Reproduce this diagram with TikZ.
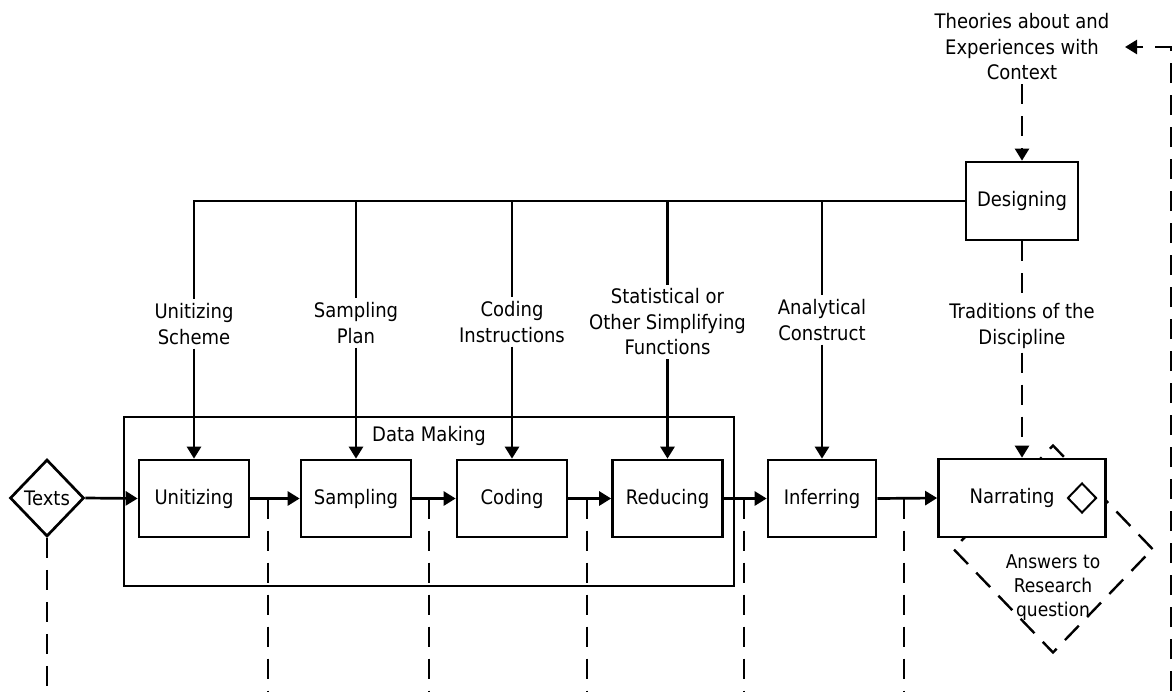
\documentclass[tikz,border=0pt]{standalone}
\usepackage{fontspec}
\setmainfont{DejaVu Sans}[FakeStretch=0.9]
\usetikzlibrary{arrows.meta,shapes.geometric}
\begin{document}
\begin{tikzpicture}[x=1pt,y=-1pt,
  every node/.style={font=\fontsize{20}{25.5}\selectfont},
  stepbox/.style={draw, line width=2.7pt, fill=white, minimum width=110pt, minimum height=77pt, inner sep=0pt},
  lbl/.style={align=center, inner sep=4pt},
  plain/.style={inner sep=0pt},
  solidline/.style={line width=2.7pt},
  dashline/.style={line width=2.4pt, dash pattern=on 20pt off 12pt},
  arr/.style={-{Triangle[length=12pt,width=14pt]}}
]
\useasboundingbox (0,0) rectangle (1173,691);

% data making frame
\node[draw, line width=2.7pt, minimum width=610pt, minimum height=169pt, inner sep=0pt] (dm) at (429,501.5) {};
\node[plain] (dmlbl) at (429,436) {Data Making};

% texts diamond
\node[diamond, draw, line width=2.7pt, fill=white, minimum width=74pt, minimum height=77pt, inner sep=0pt] (texts) at (47,498) {};
\node[plain] (textslbl) at (texts.center) {Texts};

% process boxes
\node[stepbox] (unit) at (194,498.5) {Unitizing};
\node[stepbox] (samp) at (356,498.5) {Sampling};
\node[stepbox] (cod) at (512,498.5) {Coding};
\node[stepbox] (red) at (667.5,498.5) {Reducing};
\node[stepbox, minimum width=108pt] (inf) at (822,498.5) {Inferring};

% answers dashed diamond (behind narrating)
\node[diamond, draw, dashline, minimum width=200pt, minimum height=208pt, inner sep=0pt] (answ) at (1053,549) {};
\node[align=center, inner sep=0pt, font=\fontsize{19}{24}\selectfont] (answlbl) at (1053,588) {Answers to\\Research\\question};

% narrating
\node[stepbox, minimum width=167pt, minimum height=78pt] (nar) at (1022,498) {};
\node[plain] (narlbl) at (1012,498) {Narrating};
\node[diamond, draw, line width=2pt, minimum width=29pt, minimum height=30pt, inner sep=0pt] (small) at (1082,498) {};

% designing
\node[stepbox, minimum width=112pt, minimum height=78pt] (des) at (1022,201) {Designing};

% labels
\node[lbl] (ls1) at (194,324) {Unitizing\\Scheme};
\node[lbl] (ls2) at (356,323) {Sampling\\Plan};
\node[lbl] (ls3) at (512,322) {Coding\\Instructions};
\node[lbl] (ls4) at (667.5,322) {Statistical or\\Other Simplifying\\Functions};
\node[lbl] (ls5) at (822,320) {Analytical\\Construct};
\node[lbl] (trad) at (1022,326) {Traditions of the\\Discipline};
\node[lbl] (theo) at (1022,47) {Theories about and\\Experiences with\\Context};

% top distribution line
\coordinate (t1) at (194,201);
\coordinate (t2) at (356,201);
\coordinate (t3) at (512,201);
\coordinate (t4) at (667.5,201);
\coordinate (t5) at (822,201);
\draw[solidline, line cap=rect] (des.west) -- (t1);
\draw[solidline] (t1) -- (ls1.north);
\draw[solidline] (t2) -- (ls2.north);
\draw[solidline] (t3) -- (ls3.north);
\draw[solidline] (t4) -- (ls4.north);
\draw[solidline] (t5) -- (ls5.north);
\draw[solidline,arr] (ls1.south) -- (unit.north);
\draw[solidline,arr] (ls2.south) -- (samp.north);
\draw[solidline,arr] (ls3.south) -- (cod.north);
\draw[solidline,arr] (ls4.south) -- (red.north);
\draw[solidline,arr] (ls5.south) -- (inf.north);

% flow arrows
\draw[solidline,arr] (texts.east) -- (unit.west);
\draw[solidline,arr] (unit.east) -- (samp.west);
\draw[solidline,arr] (samp.east) -- (cod.west);
\draw[solidline,arr] (cod.east) -- (red.west);
\draw[solidline,arr] (red.east) -- (inf.west);
\draw[solidline,arr] (inf.east) -- (nar.west);

% dashed context lines
\draw[dashline,arr] (theo.south) -- (des.north);
\draw[dashline] (des.south) -- (trad.north);
\draw[dashline,arr] (trad.south) -- (nar.north);

\coordinate (d0) at (47,691);
\coordinate (d1) at (268,498.5); \coordinate (d1b) at (268,691);
\coordinate (d2) at (429,498.5); \coordinate (d2b) at (429,691);
\coordinate (d3) at (587,498.5); \coordinate (d3b) at (587,691);
\coordinate (d4) at (744,498.5); \coordinate (d4b) at (744,691);
\coordinate (d5) at (904,498.5); \coordinate (d5b) at (904,691);
\draw[dashline] (texts.south) -- (d0);
\draw[dashline] (d1) -- (d1b);
\draw[dashline] (d2) -- (d2b);
\draw[dashline] (d3) -- (d3b);
\draw[dashline] (d4) -- (d4b);
\draw[dashline] (d5) -- (d5b);

\coordinate (rb) at (1171,691);
\coordinate (rt) at (1171,47);
\coordinate (rtip) at (1125,47);
\draw[dashline,arr] (rb) -- (rt) -- (rtip);
\end{tikzpicture}
\end{document}
